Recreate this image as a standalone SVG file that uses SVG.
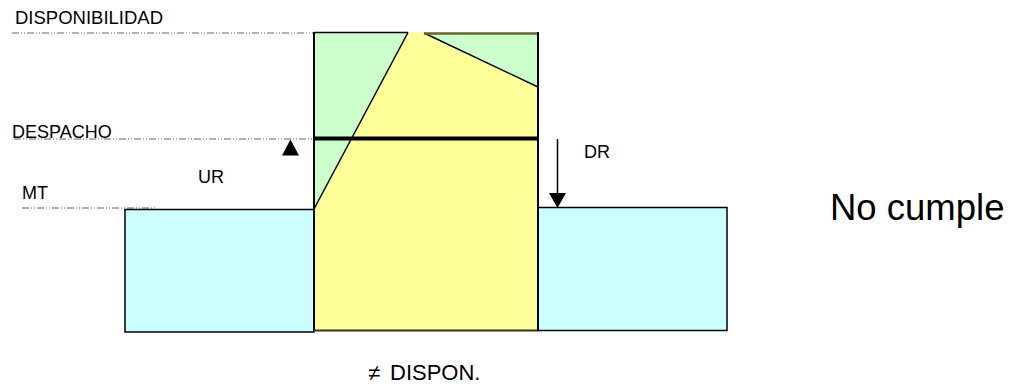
<svg xmlns="http://www.w3.org/2000/svg" width="1021" height="388" viewBox="0 0 1021 388">
<style>
.lbl{font-family:"Liberation Sans",Arial,sans-serif;fill:#000;}
.guide{stroke:#666;stroke-width:1;stroke-dasharray:7 2 1 2 1 2;fill:none;}
.edge{stroke:#000;stroke-width:1.5;fill:none;}
</style>
<rect width="1021" height="388" fill="#fff"/>
<g id="guides">
<line class="guide" x1="12" y1="33" x2="314" y2="33"/>
<line class="guide" x1="14" y1="139" x2="314" y2="139"/>
<line class="guide" x1="22" y1="208" x2="157" y2="208"/>
</g>
<g id="left-box">
<rect x="125" y="209.5" width="189" height="122.5" fill="#ccffff" stroke="#000" stroke-width="1.5"/>
</g>
<g id="right-box">
<rect x="538" y="207.5" width="189" height="123" fill="#ccffff" stroke="#000" stroke-width="1.5"/>
</g>
<g id="central-block">
<rect x="314" y="32.5" width="224" height="177" fill="#ccffcc"/>
<polygon points="314,209 408,32.5 424,32.5 538,87 538,330.5 314,330.5" fill="#ffff99"/>
<line class="edge" x1="314" y1="209" x2="408" y2="32.5"/>
<line class="edge" x1="424" y1="33" x2="538" y2="87"/>
<line x1="314" y1="32.5" x2="408" y2="32.5" stroke="#000" stroke-width="1.5"/>
<line x1="424" y1="33.5" x2="538" y2="33.5" stroke="#6b6633" stroke-width="2.5"/>
<line x1="314" y1="32" x2="314" y2="331" stroke="#000" stroke-width="2"/>
<line x1="538" y1="32" x2="538" y2="331" stroke="#000" stroke-width="2"/>
<line x1="314" y1="330.5" x2="538" y2="330.5" stroke="#333322" stroke-width="2"/>
<line x1="314" y1="138.5" x2="538" y2="138.5" stroke="#000" stroke-width="4"/>
</g>
<g id="connectors">
<polygon points="290.5,139.5 282,155.5 299,155.5" fill="#000"/>
<line x1="557.5" y1="139" x2="557.5" y2="194" stroke="#000" stroke-width="1.5"/>
<polygon points="549,193 566,193 557.5,208" fill="#000"/>
</g>
<g id="labels">
<text class="lbl" x="15" y="24" font-size="18.5">DISPONIBILIDAD</text>
<text class="lbl" x="12" y="137.5" font-size="18">DESPACHO</text>
<text class="lbl" x="22" y="199" font-size="18">MT</text>
<text class="lbl" x="198" y="182.5" font-size="18">UR</text>
<text class="lbl" x="584" y="158" font-size="18">DR</text>
<text class="lbl" x="830" y="220" font-size="36.5">No cumple</text>
<text class="lbl" y="380" font-size="22"><tspan x="368">≠</tspan><tspan x="390">DISPON.</tspan></text>
</g>
</svg>
